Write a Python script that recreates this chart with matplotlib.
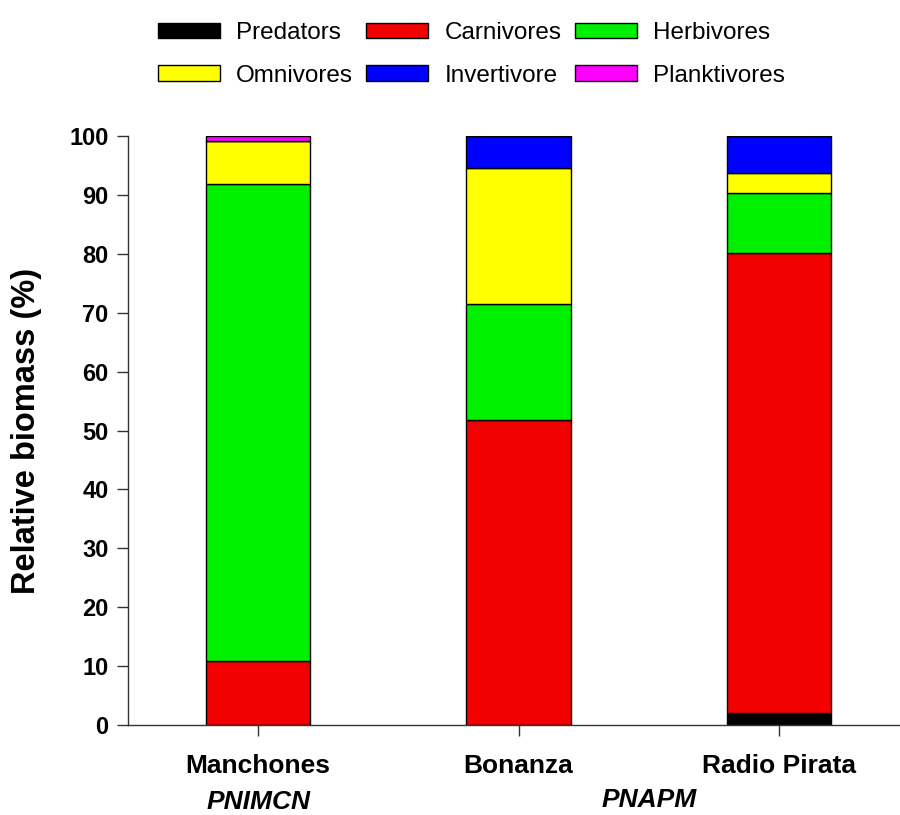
import matplotlib

matplotlib.use("Agg")

import matplotlib.pyplot as plt
import numpy as np

plt.rcParams["font.family"] = ["Liberation Sans", "DejaVu Sans"]

sites = ["Manchones", "Bonanza", "Radio Pirata"]
parks = ["PNIMCN", "PNAPM"]

groups = ["Predators", "Carnivores", "Herbivores", "Omnivores", "Invertivore", "Planktivores"]
colors = ["#000000", "#f20000", "#00f000", "#ffff00", "#0000ff", "#ff00ff"]

predators = [0.0, 0.0, 2.0]
carnivores = [10.8, 51.8, 78.1]
herbivores = [81.0, 19.7, 10.2]
omnivores = [7.4, 23.0, 3.4]
invertivore = [0.0, 5.5, 6.3]
planktivores = [0.8, 0.0, 0.0]

values = [predators, carnivores, herbivores, omnivores, invertivore, planktivores]

fig = plt.figure(figsize=(9, 8.15), dpi=100)
ax = fig.add_axes([0.1422, 0.1104, 0.8578, 0.7227])

x = np.arange(len(sites))
bottom = np.zeros(len(sites))
handles = []
for name, vals, col in zip(groups, values, colors):
    vals = np.array(vals)
    bars = ax.bar(x, vals, 0.4, bottom=bottom, color=col, edgecolor="black",
                  linewidth=1.0, label=name)
    handles.append(bars)
    bottom += vals

ax.set_xlim(-0.5, 2.465)
ax.set_ylim(0, 100)
ax.set_yticks(np.arange(0, 101, 10))
ax.set_xticks(x)
ax.set_xticklabels(sites, fontsize=19, fontweight="bold")
ax.tick_params(axis="y", labelsize=17, length=8, width=1, pad=6, colors="#333333",
               labelcolor="black")
ax.tick_params(axis="x", length=8, width=1, pad=13, colors="#333333", labelcolor="black")
for lab in ax.get_yticklabels():
    lab.set_fontweight("bold")
ax.spines["top"].set_visible(False)
ax.spines["right"].set_visible(False)
for s in ["left", "bottom"]:
    ax.spines[s].set_color("#333333")
    ax.spines[s].set_linewidth(1)

ax.set_ylabel("Relative biomass (%)", fontsize=23.5, fontweight="bold")
ax.yaxis.set_label_coords(-0.111, 0.5)

# park names under the site labels
ax.annotate(parks[0], xy=(0, -0.131), xycoords=("data", "axes fraction"),
            ha="center", va="center", fontsize=19, fontweight="bold", style="italic")
ax.annotate(parks[1], xy=(1.5, -0.128), xycoords=("data", "axes fraction"),
            ha="center", va="center", fontsize=19, fontweight="bold", style="italic")

order = [0, 3, 1, 4, 2, 5]
fig.legend([handles[i] for i in order], [groups[i] for i in order],
           loc="upper left", bbox_to_anchor=(0.1756, 0.973), ncol=3, frameon=False,
           fontsize=17.5, handlelength=2.55, handleheight=0.62, handletextpad=0.66,
           columnspacing=0.55, labelspacing=0.85, borderpad=0, borderaxespad=0)

fig.savefig("out.png", dpi=100)
plt.close(fig)
